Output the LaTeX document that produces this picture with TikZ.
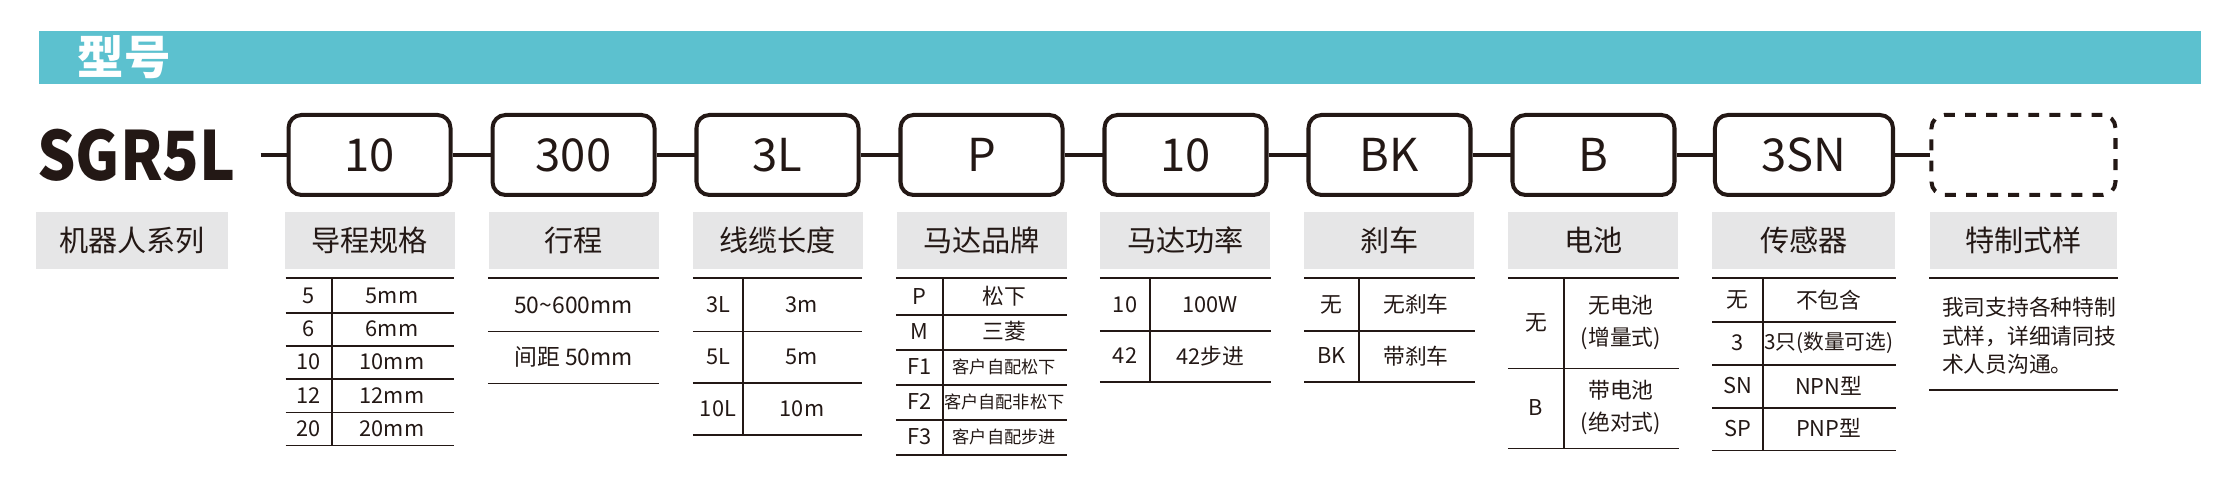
\documentclass[tikz,border=0pt]{standalone}
\usepackage{fontspec}
\setmainfont{Noto Sans CJK SC}
\newfontfamily\modelfont[FakeStretch=0.89]{Noto Sans CJK SC}
\usetikzlibrary{matrix,positioning}

\definecolor{inkc}{HTML}{231815}
\definecolor{bandc}{HTML}{5CC1CF}
\definecolor{shadec}{HTML}{E6E6E7}

\tikzset{
  codebox/.style={draw=inkc, line width=1.14pt, rounded corners=1.3mm, minimum width=16.2mm, minimum height=8mm, inner sep=0pt, font=\fontsize{12.9}{14}\selectfont},
  blankbox/.style={codebox, dash pattern=on 3.1pt off 2.9pt},
  headbox/.style={fill=shadec, minimum width=17mm, minimum height=5.7mm, inner sep=0pt, font=\fontsize{8.3}{10}\selectfont},
  link/.style={draw=inkc, line width=0.95pt},
  tabline/.style={draw=inkc, line width=0.5pt},
  tbl/.style={matrix of nodes, inner sep=0pt, below=0.85mm of #1, nodes={anchor=center, inner sep=0pt, font=\fontsize{6.2}{7.5}\selectfont}},
  fine/.style={font=\fontsize{4.9}{6}\selectfont},
  twoline/.style={font=\fontsize{6.2}{9.1}\selectfont},
}

\begin{document}
\begin{tikzpicture}[x=0.1mm, y=-0.1mm, every node/.append style={text=inkc}]
\useasboundingbox (0,0) rectangle (2233,494);

\node (band) [fill=bandc, minimum width=216.2mm, minimum height=5.3mm, inner sep=0pt, anchor=north west] at (38,30) {};
\node (title) [right=3.9mm of band.west, inner sep=0pt, text=white, font=\bfseries\fontsize{13.2}{14}\selectfont] {型号};

\matrix (m) [matrix of nodes, row sep=1.5mm, column sep=3.4mm, inner sep=0pt, nodes={anchor=center}, matrix anchor=m-1-1.center, row 1/.style={nodes=codebox}, row 2/.style={nodes=headbox}] at (369.5,155)
{
  10 & 300 & 3L & P & 10 & BK & B & |[minimum width=17.8mm]| 3SN & |[blankbox, minimum width=18.4mm]| {} \\
  导程规格 & 行程 & 线缆长度 & 马达品牌 & 马达功率 & 刹车 & 电池 & |[minimum width=18.3mm]| 传感器 & |[minimum width=18.7mm]| 特制式样 \\
};
\node (series) [headbox, minimum width=19.2mm, left=5.5mm of m-2-1] {机器人系列};
\node (model) [left=5mm of m-1-1, inner sep=0pt, font=\modelfont\bfseries\fontsize{19.3}{20}\selectfont] {SGR5L};

\coordinate (start) at ([xshift=-2.6mm]m-1-1.west);
\path[link]
  (start) edge (m-1-1)
  (m-1-1) edge (m-1-2)
  (m-1-2) edge (m-1-3)
  (m-1-3) edge (m-1-4)
  (m-1-4) edge (m-1-5)
  (m-1-5) edge (m-1-6)
  (m-1-6) edge (m-1-7)
  (m-1-7) edge (m-1-8)
  (m-1-8) edge (m-1-9);

% lead
\matrix (lead) [tbl=m-2-1, column 1/.style={nodes={minimum width=4.5mm}}, column 2/.style={nodes={minimum width=12.16mm}}, nodes={minimum height=3.32mm}]
{
  5 & 5mm \\
  6 & 6mm \\
  10 & 10mm \\
  12 & 12mm \\
  20 & 20mm \\
};
\draw[tabline] (lead.north west) -- (lead.north east)
  (lead-1-1.south west) -- (lead-1-2.south east)
  (lead-2-1.south west) -- (lead-2-2.south east)
  (lead-3-1.south west) -- (lead-3-2.south east)
  (lead-4-1.south west) -- (lead-4-2.south east)
  (lead-5-1.south west) -- (lead-5-2.south east)
  (lead-1-1.north east) -- (lead-5-1.south east);

% travel
\matrix (travel) [tbl=m-2-2, nodes={minimum width=17mm, minimum height=5.2mm, font=\fontsize{6.5}{8}\selectfont}]
{
  50\textasciitilde600mm \\
  间距 50mm \\
};
\draw[tabline] (travel.north west) -- (travel.north east)
  (travel-1-1.south west) -- (travel-1-1.south east)
  (travel-2-1.south west) -- (travel-2-1.south east);

% cable
\matrix (cable) [tbl=m-2-3, column 1/.style={nodes={minimum width=4.9mm}}, column 2/.style={nodes={minimum width=11.9mm}}, nodes={minimum height=5.18mm}]
{
  3L & 3m \\
  5L & 5m \\
  10L & 10m \\
};
\draw[tabline] (cable.north west) -- (cable.north east)
  (cable-1-1.south west) -- (cable-1-2.south east)
  (cable-2-1.south west) -- (cable-2-2.south east)
  (cable-3-1.south west) -- (cable-3-2.south east)
  (cable-1-1.north east) -- (cable-3-1.south east);

% brand
\matrix (brand) [tbl=m-2-4, column 1/.style={nodes={minimum width=4.56mm}}, column 2/.style={nodes={minimum width=12.44mm}}, nodes={minimum height=3.51mm}]
{
  P & 松下 \\
  M & 三菱 \\
  F1 & |[fine]| 客户自配松下 \\
  F2 & |[fine]| 客户自配非松下 \\
  F3 & |[fine]| 客户自配步进 \\
};
\draw[tabline] (brand.north west) -- (brand.north east)
  (brand-1-1.south west) -- (brand-1-2.south east)
  (brand-2-1.south west) -- (brand-2-2.south east)
  (brand-3-1.south west) -- (brand-3-2.south east)
  (brand-4-1.south west) -- (brand-4-2.south east)
  (brand-5-1.south west) -- (brand-5-2.south east)
  (brand-1-1.north east) -- (brand-5-1.south east);

% power
\matrix (power) [tbl=m-2-5, column 1/.style={nodes={minimum width=4.9mm}}, column 2/.style={nodes={minimum width=12.1mm}}, nodes={minimum height=5.12mm}]
{
  10 & 100W \\
  42 & 42步进 \\
};
\draw[tabline] (power.north west) -- (power.north east)
  (power-1-1.south west) -- (power-1-2.south east)
  (power-2-1.south west) -- (power-2-2.south east)
  (power-1-1.north east) -- (power-2-1.south east);

% brake
\matrix (brake) [tbl=m-2-6, column 1/.style={nodes={minimum width=5.3mm}}, column 2/.style={nodes={minimum width=11.6mm}}, nodes={minimum height=5.12mm}]
{
  无 & 无刹车 \\
  BK & 带刹车 \\
};
\draw[tabline] (brake.north west) -- (brake.north east)
  (brake-1-1.south west) -- (brake-1-2.south east)
  (brake-2-1.south west) -- (brake-2-2.south east)
  (brake-1-1.north east) -- (brake-2-1.south east);

% battery
\matrix (battery) [tbl=m-2-7, column 1/.style={nodes={minimum width=5.5mm}}, column 2/.style={nodes={minimum width=11.5mm}}, row 1/.style={nodes={minimum height=8.9mm}}, row 2/.style={nodes={minimum height=8mm}}]
{
  无 & |[twoline]| {\begin{tabular}{@{}c@{}}无电池\\(增量式)\end{tabular}} \\
  B & |[twoline]| {\begin{tabular}{@{}c@{}}带电池\\(绝对式)\end{tabular}} \\
};
\draw[tabline] (battery.north west) -- (battery.north east)
  (battery-1-1.south west) -- (battery-1-2.south east)
  (battery-2-1.south west) -- (battery-2-2.south east)
  (battery-1-1.north east) -- (battery-2-1.south east);

% sensor
\matrix (sensor) [tbl=m-2-8, column 1/.style={nodes={minimum width=4.95mm}}, column 2/.style={nodes={minimum width=13.3mm}}, nodes={minimum height=4.27mm}]
{
  无 & 不包含 \\
  3 & |[font=\fontsize{5.9}{7}\selectfont]| 3只(数量可选) \\
  SN & NPN型 \\
  SP & PNP型 \\
};
\draw[tabline] (sensor.north west) -- (sensor.north east)
  (sensor-1-1.south west) -- (sensor-1-2.south east)
  (sensor-2-1.south west) -- (sensor-2-2.south east)
  (sensor-3-1.south west) -- (sensor-3-2.south east)
  (sensor-4-1.south west) -- (sensor-4-2.south east)
  (sensor-1-1.north east) -- (sensor-4-1.south east);

% custom
\node (custom) [anchor=north west, inner sep=0pt, align=left, font=\fontsize{6.2}{8.05}\selectfont] at ([xshift=1.2mm, yshift=-2.7mm]m-2-9.south west) {我司支持各种特制\\式样，详细请同技\\术人员沟通。};
\draw[tabline] ([yshift=-0.85mm]m-2-9.south west) -- ([yshift=-0.85mm]m-2-9.south east)
  ([yshift=-12mm]m-2-9.south west) -- ([yshift=-12mm]m-2-9.south east);
\end{tikzpicture}
\end{document}
